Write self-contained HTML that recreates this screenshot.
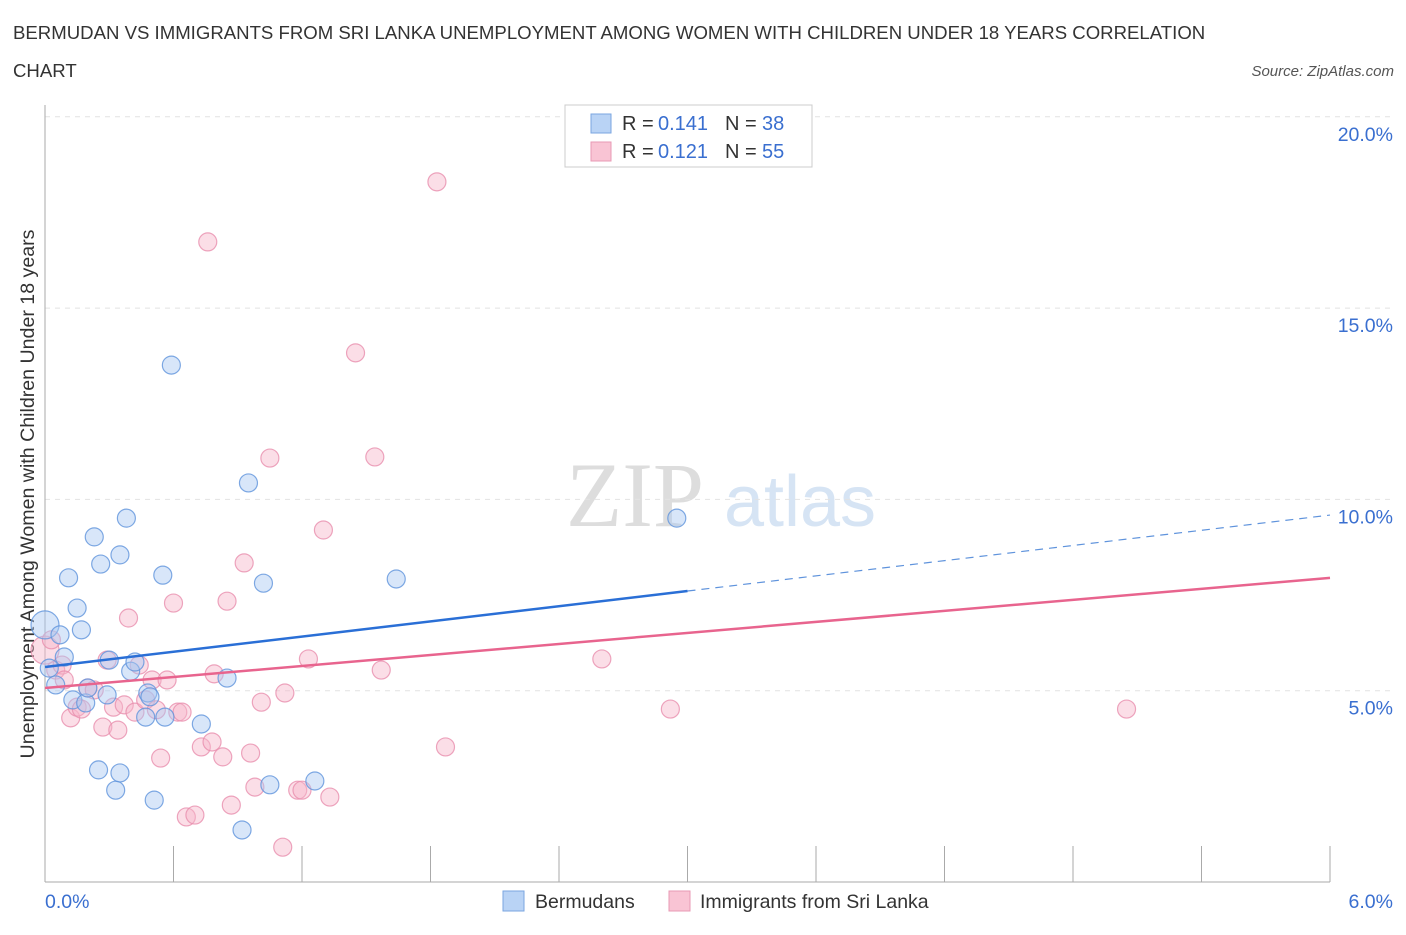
<!DOCTYPE html>
<html><head><meta charset="utf-8"><style>
body{margin:0;background:#fff;font-family:"Liberation Sans",sans-serif;}
</style></head><body>
<svg id="chart" width="1406" height="930" xmlns="http://www.w3.org/2000/svg" font-family="Liberation Sans, sans-serif">
<text x="13" y="39" font-size="18.6" fill="#333">BERMUDAN VS IMMIGRANTS FROM SRI LANKA UNEMPLOYMENT AMONG WOMEN WITH CHILDREN UNDER 18 YEARS CORRELATION</text>
<text x="13" y="77" font-size="18.6" fill="#333">CHART</text>
<text x="1394" y="76" font-size="15" fill="#555" font-style="italic" text-anchor="end">Source: ZipAtlas.com</text>
<text transform="translate(34,494) rotate(-90)" font-size="19.6" fill="#333" text-anchor="middle">Unemployment Among Women with Children Under 18 years</text>
<g><text x="635" y="526" font-size="92" fill="#ddd" font-family="Liberation Serif, serif" text-anchor="middle">ZIP</text><text x="800" y="526" font-size="72" fill="#d6e4f4" text-anchor="middle">atlas</text></g>
<g id="grid"></g><g id="axes"></g><g id="marks"></g>
<g>
<rect x="565" y="105" width="247" height="62" fill="#fff" stroke="#ccc"/>
<rect x="591" y="114" width="20" height="19" fill="#b9d3f5" stroke="#7aa6e0"/>
<rect x="591" y="142" width="20" height="19" fill="#f9c4d4" stroke="#e89ab4"/>
<text x="622" y="130" font-size="20" fill="#333">R = </text><text x="658" y="130" font-size="20" fill="#3a6fd0">0.141</text>
<text x="725" y="130" font-size="20" fill="#333">N = </text><text x="762" y="130" font-size="20" fill="#3a6fd0">38</text>
<text x="622" y="158" font-size="20" fill="#333">R = </text><text x="658" y="158" font-size="20" fill="#3a6fd0">0.121</text>
<text x="725" y="158" font-size="20" fill="#333">N = </text><text x="762" y="158" font-size="20" fill="#3a6fd0">55</text>
</g>
<g>
<rect x="503" y="891" width="21" height="20" fill="#b9d3f5" stroke="#7aa6e0"/>
<text x="535" y="908" font-size="19.5" fill="#333">Bermudans</text>
<rect x="669" y="891" width="21" height="20" fill="#f9c4d4" stroke="#e89ab4"/>
<text x="700" y="908" font-size="19.5" fill="#333">Immigrants from Sri Lanka</text>
</g>
</svg>
<script>
const xTicks=[0,0.6,1.2,1.8,2.4,3.0,3.6,4.2,4.8,5.4,6.0];
const yTicks=[5,10,15,20];
const yTickLabels=["5.0%","10.0%","15.0%","20.0%"];
const bermX=[0,0.02,0.05,0.07,0.09,0.11,0.13,0.15,0.17,0.19,0.20,0.23,0.25,0.26,0.29,0.30,0.33,0.35,0.35,0.38,0.40,0.42,0.47,0.48,0.49,0.51,0.55,0.56,0.59,0.73,0.85,0.92,0.95,1.02,1.05,1.26,1.64,2.95];
const bermY=[6.72,5.59,5.15,6.46,5.88,7.95,4.76,7.16,6.59,4.68,5.07,9.02,2.93,8.31,4.89,5.80,2.40,2.85,8.55,9.51,5.51,5.75,4.31,4.94,4.84,2.14,8.02,4.31,13.51,4.13,5.33,1.36,10.43,7.81,2.54,2.64,7.92,9.51];
const sriX=[0,0.03,0.05,0.08,0.09,0.12,0.15,0.17,0.20,0.23,0.27,0.29,0.32,0.34,0.37,0.39,0.42,0.44,0.47,0.50,0.52,0.54,0.57,0.60,0.62,0.64,0.66,0.70,0.73,0.76,0.78,0.79,0.83,0.85,0.87,0.93,0.96,0.98,1.01,1.05,1.12,1.11,1.18,1.20,1.23,1.30,1.33,1.45,1.54,1.57,1.83,1.87,2.60,2.92,5.05];
const sriY=[6.06,6.33,5.54,5.67,5.28,4.29,4.57,4.52,5.07,5.02,4.05,5.80,4.57,3.97,4.63,6.90,4.44,5.67,4.76,5.28,4.50,3.24,5.28,7.29,4.44,4.44,1.70,1.75,3.53,16.73,3.66,5.44,3.27,7.34,2.01,8.34,3.37,2.48,4.70,11.08,4.94,0.91,2.40,2.40,5.83,9.20,2.22,13.83,11.11,5.54,18.30,3.53,5.83,4.52,4.52];
const bermTrend=[5.62,9.59]; const bermSolidEnd=3.0;
const sriTrend=[5.07,7.95];
const NS="http://www.w3.org/2000/svg";
const X=v=>45+v/6*1285, Y=v=>882-v/5*191.3;
function mk(t,a,p){const e=document.createElementNS(NS,t);for(const k in a)e.setAttribute(k,a[k]);p.appendChild(e);return e;}
const grid=document.getElementById('grid'),axes=document.getElementById('axes'),marks=document.getElementById('marks');
yTicks.forEach((v,i)=>{const l=mk('line',{x1:45,x2:1392,y1:Y(v),y2:Y(v),stroke:'#e2e2e2','stroke-dasharray':'5,5'},grid);


const t=mk('text',{x:1393,y:Y(v)+24,'font-size':19.5,fill:'#3a6fd0','text-anchor':'end'},axes);t.textContent=yTickLabels[i];

});
const ax=mk('line',{x1:45,x2:45,y1:105,y2:882,stroke:'#aaa'},axes);


const bx=mk('line',{x1:45,x2:1330,y1:882,y2:882,stroke:'#aaa'},axes);


xTicks.forEach(v=>{const l=mk('line',{x1:X(v),x2:X(v),y1:846,y2:882,stroke:'#aaa'},axes);

});
[[0,'0.0%','start',45],[6,'6.0%','end',1393]].forEach(d=>{const t=mk('text',{x:d[3],y:908,'font-size':19.5,fill:'#3a6fd0','text-anchor':d[2]},axes);t.textContent=d[1];

});
function pts(xs,ys,fill,stroke,name){xs.forEach((x,i)=>{const big=(x===0&&i===0);const c=mk('circle',{cx:X(x),cy:Y(ys[i]),r:big?14:9,fill:fill,'fill-opacity':0.45,stroke:stroke,'stroke-opacity':0.8,'stroke-width':1.2},marks);

});}
pts(sriX,sriY,'#f7b6ca','#e88fae','sri-lanka-point');
pts(bermX,bermY,'#a9c8f2','#5f93dc','bermudan-point');
const bs=bermTrend[0]+(bermTrend[1]-bermTrend[0])*bermSolidEnd/6;
const l1=mk('line',{x1:X(0),y1:Y(bermTrend[0]),x2:X(bermSolidEnd),y2:Y(bs),stroke:'#2a6fd6','stroke-width':2.5},marks);


const l2=mk('line',{x1:X(bermSolidEnd),y1:Y(bs),x2:X(6),y2:Y(bermTrend[1]),stroke:'#5f93dc','stroke-width':1.2,'stroke-dasharray':'8,6'},marks);


const l3=mk('line',{x1:X(0),y1:Y(sriTrend[0]),x2:X(6),y2:Y(sriTrend[1]),stroke:'#e8648e','stroke-width':2.5},marks);


</script>
</body></html>
